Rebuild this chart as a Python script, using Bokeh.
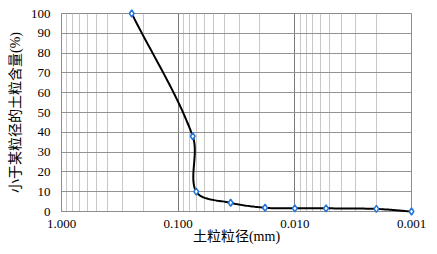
import numpy as np
from bokeh.plotting import figure
from bokeh.models import Range1d, FixedTicker, CustomJSTickFormatter
from bokeh.embed import file_html
from bokeh.resources import INLINE

# data
grain_size_mm = [0.25, 0.075, 0.07, 0.0355, 0.018, 0.010, 0.0054, 0.002, 0.001]
percent_finer = [100, 38, 10, 4.4, 1.9, 1.6, 1.6, 1.3, 0]
x_ticks = [1.0, 0.1, 0.01, 0.001]
y_ticks = list(range(0, 101, 10))

SERIF = "'Liberation Serif', 'Noto Sans CJK SC'"

# smooth curve through the data (chord-scaled cardinal spline), in display-proportional space
u = -np.log10(np.array(grain_size_mm)) * 116.7
v = np.array(percent_finer, dtype=float) * 1.98
pts = np.column_stack([u, v])
P = np.vstack([pts[0] - (pts[1] - pts[0]), pts, pts[-1] + (pts[-1] - pts[-2])])
curve = []
for i in range(1, len(P) - 2):
    p0, p1, p2, p3 = P[i - 1], P[i], P[i + 1], P[i + 2]
    d01 = np.linalg.norm(p1 - p0); d12 = np.linalg.norm(p2 - p1); d23 = np.linalg.norm(p3 - p2)
    c1 = p1 + (p2 - p0) * d12 / (d01 + d12) / 3.0
    c2 = p2 - (p3 - p1) * d12 / (d12 + d23) / 3.0
    for t in np.linspace(0, 1, 25)[:-1]:
        b = ((1 - t) ** 3) * p1 + 3 * ((1 - t) ** 2) * t * c1 + 3 * (1 - t) * t * t * c2 + t ** 3 * p2
        curve.append(b)
curve.append(pts[-1])
curve = np.array(curve)
cx = 10 ** (-curve[:, 0] / 116.7)
cy = curve[:, 1] / 1.98

p = figure(width=437, height=254, x_axis_type="log",
           x_range=Range1d(1.0, 0.001), y_range=Range1d(0, 100),
           output_backend="svg", toolbar_location=None,
           min_border_left=61, min_border_right=26, min_border_top=13, min_border_bottom=43)
p.background_fill_color = "white"
p.border_fill_color = "white"
p.outline_line_color = "#8c8c8c"

minor = [m * d for d in [1.0, 0.1, 0.01] for m in [0.2, 0.3, 0.4, 0.5, 0.6, 0.7, 0.8, 0.9]]
p.xaxis.ticker = FixedTicker(ticks=x_ticks, minor_ticks=minor)
p.xaxis.formatter = CustomJSTickFormatter(code="return tick.toFixed(3);")
p.yaxis.ticker = FixedTicker(ticks=y_ticks)

for ax in (p.xaxis, p.yaxis):
    ax.major_tick_line_color = None
    ax.minor_tick_line_color = None
    ax.major_tick_out = 0
    ax.minor_tick_out = 0
    ax.major_tick_in = 0
    ax.minor_tick_in = 0
    ax.axis_line_color = "#8c8c8c"
    ax.major_label_text_font = SERIF
    ax.major_label_text_font_size = "13px"
    ax.major_label_text_color = "black"
    ax.axis_label_text_font = SERIF
    ax.axis_label_text_font_size = "14px"
    ax.axis_label_text_font_style = "normal"
    ax.axis_label_text_color = "black"

p.xaxis.major_label_standoff = 8
p.yaxis.major_label_standoff = 11
p.xaxis.axis_label = "土粒粒径(mm)"
p.yaxis.axis_label = "小于某粒径的土粒含量(%)"
p.xaxis.axis_label_standoff = -2
p.yaxis.axis_label_standoff = 5

p.xgrid.grid_line_color = "#7a7a7a"
p.xgrid.minor_grid_line_color = "#c8c8c8"
p.ygrid.grid_line_color = "#939393"

p.line(cx, cy, line_color="black", line_width=2, level="overlay")
p.scatter(grain_size_mm, percent_finer, marker="diamond", size=7,
          line_color="#2176d9", fill_color="white", line_width=1.5, level="overlay")

open("out.html", "w").write(file_html(p, INLINE))
